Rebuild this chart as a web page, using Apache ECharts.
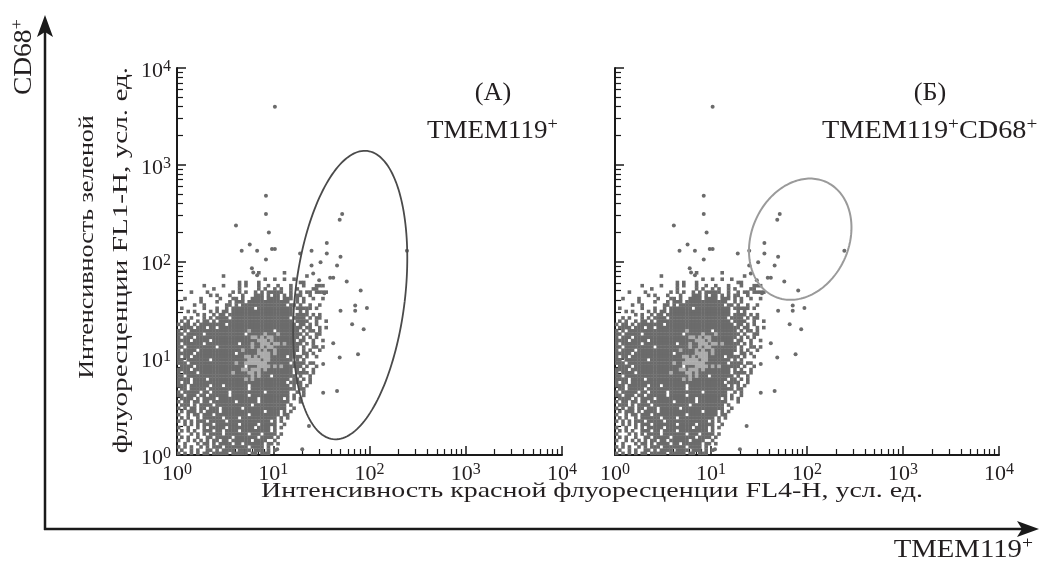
<!DOCTYPE html>
<html><head><meta charset="utf-8">
<script src="https://cdn.jsdelivr.net/npm/echarts@6/dist/echarts.min.js"></script>
<style>html,body{margin:0;padding:0;background:#fff}#c{width:1041px;height:564px}</style>
</head><body><div id="c"></div>
<script>
// ---------------- data ----------------
const decadeExponents = [0, 1, 2, 3, 4];          // axis labels 10^0 .. 10^4
const minorMultipliers = [2, 3, 4, 5, 6, 7, 8, 9];
const binsPerDecade = 30;                           // histogram channels per decade
// density cells (top row first), '#' = event, 'o' = high density event
const densityRows = [
".........................#.......#",
"..............#.........................#",
"...........................#..#..#..#",
"...................#.#...#............##",
"........#.....#....#.#...#..#..#...#...#...###",
"...........#.......#.....#.#..#.#..#.#....##",
"....#....#.......#.#.#..#.#.#####..#..#.##.####",
"..........#.#...#...#...###.#.##.#.#.##..#",
"..#....#.....#...##.#..####.####.###.#.#..#..#",
".......#....#...#.###.#############..#.#",
".....#..#......##.#.##############.##.#..#..#",
".#......#...#..#.#######.###########.#####.#",
"...#.#....#.#.##.###################..#.#",
"......#.#..#.##.####################.####.#.#",
"..#.#...#.#.####.##################.####.#.##",
".#.#..#.##.#.#######################.####..#..#",
"#.##.#.########.#####################.##.#.#",
".####.###.##.##########################.##..#.#",
"#.#.##################o#######.#######.#.##.#",
"##.#####.############.#####o###o#######.#..##",
"#.###.#################oo#o#oo########.#.#.#",
"####.#####.##############ooo#o#######.##..#..#",
"#.######.##########.###o##ooo#oo#o#####.#.#",
"##.#########.##########o##o#oo########.#..##.#",
"#.####.#############o####o#o##o#######.#.#..#",
"#####.############.######oooo#o######..##.#",
"#.##.################oo#o#ooo#####.####.#..#",
"##.#######.###########oooo#oo#######.#.#",
"###.##############o##ooooooo#######.####.##",
".####.###############.###oooo#o#o######.#..#",
"####.###############oo#ooo#o########.#.#..#",
"#.####.##########o####oo#o##########.####.#",
"##.####################o#o###.#######.#..#",
"####.####.###########o#o###########.##.#.#",
"#.##.#############################.####..#",
"###.######.###.#######.############.#.#.#",
".##.#####.############.##############.##",
"#.#####.##.#####.##########.#######..#.#",
"##.###.##.######.#####.############.#..#",
".####.#.####.############.#######.#.#.#",
"#.##.##.##.#######.######.#########...#",
".###.#.####.###########.##########.#",
"#.#.##.##.###.######.#############..#",
".#.###.#.####.#############.####.#.#",
"#..#.##.###.##########.#########.##",
".#.#..#.######.####.###########.#.#",
"#.#.#.###.#####.#############.#.#",
"..#.#.#.###.#######.#####.#####..#",
"#..#..#.#.#####.########.####.#.#",
".#.#.#..###.##.####.#########.#",
"#...#.#.#.####.#######.###.####.#",
".#.#..#..##.#####.#######.####.#",
"#..#.#.#.#.##.##.######.####..#",
"..#...#.##.#.####.##.######.##.#",
"#.#.#..#.#.###.#######.####.#",
".#..#.#..##.#.####.####.###.#.#",
"#.#.#.#.##.#####.#####.##.###"
];
// isolated events [FL4-H, FL1-H]
const outlierX = [10.4, 8.4, 8.4, 9.0, 4.1, 5.7, 4.7, 6.8, 9.7, 10.4, 8.4, 6.0, 6.2, 6.8, 52, 49, 36, 25, 36, 50, 19, 31, 25, 46, 58, 81, 50, 71, 71, 94, 66, 87, 42, 76, 49, 33, 33, 46, 23.5, 245, 20, 11, 39, 42, 26, 30, 34];
const outlierY = [3980, 479, 310, 199, 235, 150, 129, 129, 135, 135, 105, 85, 77, 72, 310, 270, 155, 129, 121, 112, 121, 98, 91, 91, 62, 50, 31, 35, 31, 33, 22.4, 20, 14.3, 11, 10.2, 8.7, 4.4, 4.6, 2.0, 129, 1.15, 1.15, 68, 68, 75, 64, 47];
// gates: centre (data units), semi-axes (decades: major, minor), tilt (deg)
const gateACenter = [63, 45];
const gateAAxes = [1.50, 0.57];
const gateATilt = [6.8];
const gateBCenter = [85, 170];
const gateBAxes = [0.65, 0.505];
const gateBTilt = [25];

// ---------------- build ----------------
const FONT = 'Liberation Serif';
const INK = '#231f20';
const darkCells = [], lightCells = [];
densityRows.forEach((row, i) => {
  const r = densityRows.length - 1 - i;
  for (let c = 0; c < row.length; c++) {
    const p = [(c + 0.5) / binsPerDecade, (r + 0.5) / binsPerDecade];
    if (row[c] === '#') darkCells.push(p);
    else if (row[c] === 'o') lightCells.push(p);
  }
});
const outliers = outlierX.map((x, i) => [Math.log10(x), Math.log10(outlierY[i])]);
const minorTicks = [];
decadeExponents.slice(0, -1).forEach(e => minorMultipliers.forEach(m => minorTicks.push(e + Math.log10(m))));

const labelRich = {
  b: { fontFamily: FONT, fontSize: 22, lineHeight: 24, color: INK },
  s: { fontFamily: FONT, fontSize: 16, lineHeight: 12, verticalAlign: 'top', color: INK }
};
const expFmt = v => '{b|10}{s|' + Math.round(v) + '}';

function mainAxis(g, dim, showLabel) {
  const a = {
    gridIndex: g, type: 'value', min: 0, max: 4, interval: 1,
    position: dim === 'x' ? 'bottom' : 'left',
    axisLine: { show: true, lineStyle: { color: '#1a1a1a', width: 2 } },
    axisTick: { show: true, inside: true, length: 9, lineStyle: { color: '#1a1a1a', width: 1.5 } },
    axisLabel: { show: showLabel, formatter: expFmt, rich: labelRich, margin: dim === 'x' ? 7 : 6 },
    splitLine: { show: false }
  };
  if (dim === 'y') a.axisLabel.padding = [6, 0, 0, 0];
  return a;
}
function minorAxis(g, dim) {
  return {
    gridIndex: g, type: 'value', min: 0, max: 4,
    position: dim === 'x' ? 'bottom' : 'left',
    axisLine: { show: false },
    axisTick: { show: true, inside: true, length: 6, customValues: minorTicks, lineStyle: { color: '#1a1a1a', width: 1.2 } },
    axisLabel: { show: false }, splitLine: { show: false }
  };
}
function ellipse(center, axes, tilt, color, width) {
  return function (params, api) {
    const cx = Math.log10(center[0]), cy = Math.log10(center[1]);
    const t = tilt[0] * Math.PI / 180;
    const pts = [];
    for (let k = 0; k <= 180; k++) {
      const a = 2 * Math.PI * k / 180;
      const u = axes[1] * Math.cos(a), v = axes[0] * Math.sin(a);
      pts.push(api.coord([cx + u * Math.cos(t) + v * Math.sin(t), cy - u * Math.sin(t) + v * Math.cos(t)]));
    }
    return { type: 'polyline', shape: { points: pts }, style: { stroke: color, lineWidth: width, fill: null } };
  };
}
function panelSeries(g, gateCenter, gateAxes, gateTilt, gateColor, gateWidth) {
  const ax = { xAxisIndex: 2 * g, yAxisIndex: 2 * g };
  return [
    Object.assign({ type: 'scatter', data: darkCells, symbol: 'rect', symbolSize: 3.6, itemStyle: { color: '#6b6b6b', opacity: 1 }, silent: true, z: 2 }, ax),
    Object.assign({ type: 'scatter', data: lightCells, symbol: 'rect', symbolSize: 3.6, itemStyle: { color: '#ababab', opacity: 1 }, silent: true, z: 3 }, ax),
    Object.assign({ type: 'scatter', data: outliers, symbol: 'circle', symbolSize: 4, itemStyle: { color: '#6b6b6b', opacity: 1 }, silent: true, z: 3 }, ax),
    Object.assign({ type: 'custom', data: [[0, 0]], renderItem: ellipse(gateCenter, gateAxes, gateTilt, gateColor, gateWidth), silent: true, z: 5 }, ax)
  ];
}
const richPlus = {
  b: { fontFamily: FONT, fontSize: 25, lineHeight: 30, color: INK },
  s: { fontFamily: FONT, fontSize: 17, lineHeight: 16, verticalAlign: 'top', color: INK }
};
function txt(x, y, text, align, extra) {
  return Object.assign({ type: 'text', x: x, y: y, scaleX: 1.1, style: { text: text, rich: richPlus, align: align, textAlign: align, verticalAlign: 'middle', textVerticalAlign: 'middle', fill: INK, font: '25px ' + FONT } }, extra || {});
}
function title(x, y, text, rot, sx) {
  return { type: 'text', x: x, y: y, rotation: rot, scaleX: sx, style: { text: text, font: '21px ' + FONT, fill: INK, align: 'center', textAlign: 'center', verticalAlign: 'middle', textVerticalAlign: 'middle' } };
}

const chart = echarts.init(document.getElementById('c'), null, { renderer: 'canvas' });
chart.setOption({
  animation: false,
  backgroundColor: '#ffffff',
  grid: [
    { left: 177, top: 68, width: 385, height: 387 },
    { left: 615, top: 68, width: 384, height: 387 }
  ],
  xAxis: [mainAxis(0, 'x', true), minorAxis(0, 'x'), mainAxis(1, 'x', true), minorAxis(1, 'x')],
  yAxis: [mainAxis(0, 'y', true), minorAxis(0, 'y'), mainAxis(1, 'y', false), minorAxis(1, 'y')],
  series: [].concat(
    panelSeries(0, gateACenter, gateAAxes, gateATilt, '#4a4a4a', 1.8),
    panelSeries(1, gateBCenter, gateBAxes, gateBTilt, '#9a9a9a', 2)
  ),
  graphic: [
    { type: 'line', shape: { x1: 45, y1: 530, x2: 45, y2: 30 }, style: { stroke: '#1a1a1a', lineWidth: 2.5 } },
    { type: 'polygon', shape: { points: [[45, 15], [53, 37], [45, 32], [37, 37]] }, style: { fill: '#1a1a1a' } },
    { type: 'line', shape: { x1: 44, y1: 529, x2: 1024, y2: 529 }, style: { stroke: '#1a1a1a', lineWidth: 2.5 } },
    { type: 'polygon', shape: { points: [[1039, 529], [1017, 521], [1022, 529], [1017, 537]] }, style: { fill: '#1a1a1a' } },
    txt(24, 57, '{b|CD68}{s|+}', 'center', { rotation: Math.PI / 2 }),
    txt(1033, 550, '{b|TMEM119}{s|+}', 'right', { scaleX: 1.15 }),
    txt(493, 93, '{b|(А)}', 'center', { scaleX: 1.05 }),
    txt(427, 131, '{b|TMEM119}{s|+}', 'left', { scaleX: 1.08 }),
    txt(930, 93, '{b|(Б)}', 'center', { scaleX: 1.05 }),
    txt(822, 131, '{b|TMEM119}{s|+}{b|CD68}{s|+}', 'left', { scaleX: 1.13 }),
    title(592, 491, 'Интенсивность красной флуоресценции FL4-H, усл. ед.', 0, 1.33),
    title(87, 247, 'Интенсивность зеленой', Math.PI / 2, 1.24),
    title(121, 260, 'флуоресценции FL1-H, усл. ед.', Math.PI / 2, 1.39)
  ]
});
</script></body></html>
